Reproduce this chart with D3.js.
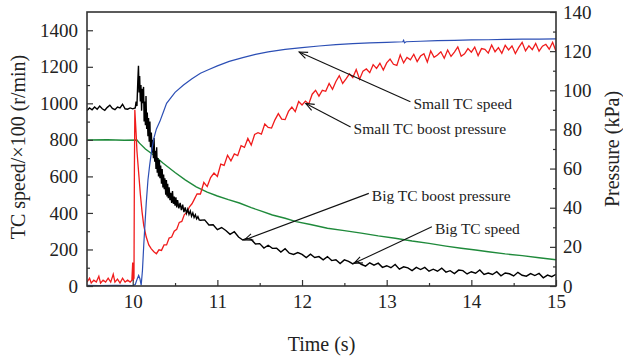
<!DOCTYPE html>
<html>
<head>
<meta charset="utf-8">
<script src="https://cdn.jsdelivr.net/npm/d3@7"></script>
<style>
  body { margin: 0; background: #fff; }
  svg { display: block; }
  svg text { font-family: "Liberation Serif", "Times New Roman", "DejaVu Serif", serif; }
</style>
</head>
<body>
<svg id="chart" width="623" height="356"></svg>
<script>
// [time (s), value]
// small TC speed, x100 r/min (left axis)
const smallSpeed = [
  [9.46, 3], [9.6, 2], [9.8, 3], [10.0, 2], [10.03, 8], [10.05, 35], [10.07, 58], [10.085, 40],
  [10.1, 5], [10.115, 85], [10.13, 220], [10.145, 340], [10.16, 455], [10.18, 580], [10.2, 660],
  [10.22, 730], [10.25, 810], [10.28, 860], [10.32, 900], [10.36, 950], [10.4, 1000], [10.45, 1030],
  [10.5, 1060], [10.6, 1100], [10.7, 1135], [10.8, 1165], [10.9, 1185], [11.0, 1205], [11.14, 1230],
  [11.3, 1250], [11.45, 1268], [11.6, 1282], [11.8, 1295], [12.0, 1305], [12.2, 1314], [12.4, 1321],
  [12.6, 1327], [12.8, 1331], [13.0, 1334], [13.19, 1337], [13.2, 1345], [13.21, 1331], [13.23, 1337],
  [13.4, 1340], [13.6, 1343], [13.8, 1345], [14.0, 1347], [14.2, 1348], [14.4, 1350], [14.6, 1351],
  [14.8, 1352], [15.0, 1353]
];

// big TC speed, x100 r/min (left axis)
const bigSpeed = [
  [9.46, 960], [9.49, 975], [9.52, 965], [9.55, 980], [9.58, 968], [9.61, 985], [9.64, 970], [9.67, 962],
  [9.7, 978], [9.73, 990], [9.76, 972], [9.79, 965], [9.82, 980], [9.85, 975], [9.88, 995], [9.91, 970],
  [9.94, 968], [9.97, 975], [10.0, 970], [10.03, 975],
  [10.04, 1010], [10.05, 985], [10.06, 1120], [10.068, 1205], [10.075, 1060], [10.082, 1150],
  [10.09, 1010], [10.097, 1100], [10.105, 960], [10.11, 1080], [10.12, 1000], [10.128, 1090],
  [10.135, 900], [10.142, 1010], [10.15, 880], [10.157, 1040], [10.165, 860], [10.172, 950],
  [10.18, 820], [10.187, 920], [10.195, 790], [10.203, 900], [10.21, 760], [10.22, 840],
  [10.228, 730], [10.235, 800], [10.245, 700], [10.252, 810], [10.26, 680], [10.268, 740],
  [10.275, 640], [10.283, 760], [10.29, 620], [10.298, 700], [10.305, 600], [10.315, 690],
  [10.322, 590], [10.33, 660], [10.34, 560], [10.348, 640], [10.357, 540], [10.365, 610],
  [10.373, 530], [10.38, 590], [10.39, 500], [10.398, 580], [10.405, 490], [10.413, 560],
  [10.42, 480], [10.43, 540], [10.44, 470], [10.45, 510], [10.46, 455], [10.47, 520],
  [10.48, 450], [10.49, 490], [10.5, 440], [10.51, 485], [10.52, 430], [10.53, 470],
  [10.545, 425], [10.56, 455], [10.575, 415], [10.59, 445], [10.605, 405], [10.62, 430],
  [10.635, 398], [10.65, 420], [10.665, 392], [10.68, 410], [10.695, 382], [10.71, 400],
  [10.725, 375], [10.74, 390], [10.755, 368], [10.77, 380], [10.785, 362],
  [10.8, 360], [10.85, 362], [10.9, 334], [10.95, 335], [11.0, 308], [11.05, 320], [11.1, 304],
  [11.15, 283], [11.2, 297], [11.25, 268], [11.3, 252], [11.35, 260], [11.4, 255], [11.45, 230],
  [11.5, 232], [11.55, 208], [11.6, 223], [11.65, 206], [11.7, 207], [11.75, 186], [11.8, 204],
  [11.85, 180], [11.9, 173], [11.95, 183], [12.0, 173], [12.05, 156], [12.1, 174], [12.15, 156],
  [12.2, 161], [12.25, 143], [12.3, 161], [12.35, 139], [12.4, 144], [12.45, 123], [12.5, 143],
  [12.55, 135], [12.6, 121], [12.65, 135], [12.7, 119], [12.75, 109], [12.8, 127], [12.85, 114],
  [12.9, 125], [12.95, 102], [13.0, 111], [13.05, 100], [13.1, 118], [13.15, 92], [13.2, 105],
  [13.25, 99], [13.3, 84], [13.35, 102], [13.4, 90], [13.45, 102], [13.5, 81], [13.55, 92],
  [13.6, 81], [13.65, 98], [13.7, 76], [13.75, 84], [13.8, 68], [13.85, 87], [13.9, 84],
  [13.95, 66], [14.0, 78], [14.05, 70], [14.1, 88], [14.15, 63], [14.2, 71], [14.25, 63],
  [14.3, 78], [14.35, 56], [14.4, 71], [14.45, 67], [14.5, 55], [14.55, 75], [14.6, 59],
  [14.65, 54], [14.7, 68], [14.75, 57], [14.8, 69], [14.85, 45], [14.9, 60], [14.95, 51], [15.0, 64]
];

// small TC boost pressure, kPa (right axis)
const smallBoost = [
  [9.46, 2], [9.49, 4], [9.51, 1.5], [9.54, 3], [9.57, 2], [9.6, 5], [9.62, 1.5], [9.65, 3],
  [9.68, 2], [9.71, 4], [9.74, 2], [9.77, 6], [9.79, 2], [9.82, 3.5], [9.85, 1.5], [9.88, 4],
  [9.91, 2], [9.94, 3], [9.97, 2], [9.99, 3], [10.0, 12], [10.005, 3], [10.015, 4], [10.02, 60],
  [10.025, 90], [10.03, 86], [10.04, 78], [10.05, 69], [10.07, 58], [10.09, 47], [10.11, 38],
  [10.13, 31], [10.16, 25], [10.19, 21], [10.22, 19], [10.25, 17.5], [10.28, 16.5], [10.31, 18.5],
  [10.34, 18.2], [10.37, 21], [10.4, 21], [10.43, 24.5], [10.46, 25], [10.49, 28], [10.52, 29],
  [10.55, 32.5], [10.58, 33], [10.61, 36.5], [10.64, 37.5], [10.67, 40.5], [10.7, 42], [10.73, 44.5],
  [10.76, 47.1], [10.8, 47], [10.84, 52.9], [10.88, 50.8], [10.92, 55.4], [10.96, 57.7], [11.0, 56],
  [11.04, 62.3], [11.08, 61.6], [11.12, 66.8], [11.16, 63.9], [11.2, 67.5], [11.24, 66.6], [11.28, 71.7],
  [11.32, 70.8], [11.36, 75.4], [11.4, 72], [11.44, 77.4], [11.48, 78.3], [11.52, 77.6], [11.56, 82.8],
  [11.6, 81], [11.64, 80.7], [11.68, 84.9], [11.72, 88.1], [11.76, 85.3], [11.8, 85], [11.84, 89.2],
  [11.88, 91.4], [11.92, 89.1], [11.96, 94.3], [12.0, 92.5], [12.04, 94.5], [12.08, 93], [12.12, 98],
  [12.16, 100], [12.2, 97], [12.24, 100], [12.28, 99.5], [12.32, 103.5], [12.36, 100.5], [12.4, 104.5],
  [12.44, 107.5], [12.48, 103.5], [12.52, 105.8], [12.56, 108.4], [12.6, 106.5], [12.64, 110.6],
  [12.68, 105.7], [12.72, 109.8], [12.76, 110.9], [12.8, 109], [12.84, 113.1], [12.88, 111.2],
  [12.92, 113.8], [12.96, 110.4], [13.0, 114], [13.04, 115.9], [13.08, 113.3], [13.12, 112.7],
  [13.16, 118.1], [13.2, 114], [13.24, 116.8], [13.28, 115.6], [13.32, 118.4], [13.36, 114.7],
  [13.4, 117.5], [13.44, 118.7], [13.48, 114.4], [13.52, 120.1], [13.56, 116.8], [13.6, 118],
  [13.64, 119.7], [13.68, 116.4], [13.72, 120.6], [13.76, 117.3], [13.8, 119.5], [13.84, 122.2],
  [13.88, 117.4], [13.92, 118.6], [13.96, 121.3], [14.0, 119.5], [14.04, 122.1], [14.08, 117.7],
  [14.12, 121.3], [14.16, 120.9], [14.2, 119], [14.24, 123.1], [14.28, 119.7], [14.32, 121.8],
  [14.36, 118.9], [14.4, 123], [14.44, 120.6], [14.48, 122.7], [14.52, 118.8], [14.56, 121.9],
  [14.6, 124.5], [14.64, 120.1], [14.68, 122.7], [14.72, 120.8], [14.76, 123.9], [14.8, 120],
  [14.84, 122.5], [14.88, 123.5], [14.92, 121], [14.96, 124.5], [15.0, 120]
];

// big TC boost pressure, kPa (right axis)
const bigBoost = [
  [9.46, 74.6], [9.7, 74.7], [9.9, 74.5], [10.05, 74.6], [10.08, 73], [10.15, 70], [10.25, 66.8],
  [10.36, 62.7], [10.5, 58], [10.62, 54.2], [10.75, 50.7], [10.88, 48], [11.0, 46], [11.13, 44.1],
  [11.26, 42.4], [11.4, 40], [11.52, 38.3], [11.65, 36.3], [11.8, 34.6], [11.93, 32.9], [12.1, 31.4],
  [12.3, 29.5], [12.5, 28.3], [12.7, 27], [12.9, 25.6], [13.1, 24.4], [13.3, 23], [13.5, 21.8],
  [13.7, 20.4], [13.88, 19.3], [14.05, 18.4], [14.2, 17.5], [14.4, 16.4], [14.6, 15.5],
  [14.8, 14.4], [15.0, 13.4]
];

const xTicks = [10, 11, 12, 13, 14, 15];
const xMinor = [10.5, 11.5, 12.5, 13.5, 14.5];
const leftTicks = [0, 200, 400, 600, 800, 1000, 1200, 1400];
const leftMinor = [100, 300, 500, 700, 900, 1100, 1300];
const rightTicks = [0, 20, 40, 60, 80, 100, 120, 140];
const rightMinor = [10, 30, 50, 70, 90, 110, 130];

// annotations: label, arrow tip and tail in [time, left-axis value]
const notes = [
  { label: "Small TC speed", tip: [11.966, 1281], tail: [13.28, 1008] },
  { label: "Small TC boost pressure", tip: [12.044, 999], tail: [12.574, 871] },
  { label: "Big TC boost pressure", tip: [11.319, 252], tail: [12.789, 507] },
  { label: "Big TC speed", tip: [12.613, 124], tail: [13.534, 324] }
];

const svg = d3.select("#chart");
const pL = 87, pR = 556, pT = 12, pB = 286;

const x = d3.scaleLinear().domain([9.46, 15]).range([pL, pR]);
const yL = d3.scaleLinear().domain([0, 1500]).range([pB, pT]);
const yR = d3.scaleLinear().domain([0, 140]).range([pB, pT]);

svg.append("clipPath").attr("id", "clip")
  .append("rect").attr("x", pL).attr("y", pT).attr("width", pR - pL).attr("height", pB - pT);

const plot = svg.append("g").attr("clip-path", "url(#clip)");

const lineL = d3.line().x(d => x(d[0])).y(d => yL(d[1]));
const lineR = d3.line().x(d => x(d[0])).y(d => yR(d[1]));

plot.append("path").attr("d", lineR(bigBoost)).attr("fill", "none").attr("stroke", "#1f8a3b").attr("stroke-width", 1.4);
plot.append("path").attr("d", lineR(smallBoost)).attr("fill", "none").attr("stroke", "#f01c1c").attr("stroke-width", 1.3);
plot.append("path").attr("d", lineL(bigSpeed)).attr("fill", "none").attr("stroke", "#000").attr("stroke-width", 1.4);
plot.append("path").attr("d", lineL(smallSpeed)).attr("fill", "none").attr("stroke", "#2c4fb5").attr("stroke-width", 1.2);

// axes
const fontSize = 19;
function styleAxis(g) {
  g.select(".domain").remove();
  g.selectAll("line").attr("stroke", "#333").attr("stroke-width", 1.2);
  g.selectAll("text").attr("font-size", fontSize).attr("fill", "#222");
}

svg.append("g").attr("transform", `translate(0,${pB})`)
  .call(d3.axisBottom(x).tickValues(xTicks).tickSize(-6).tickPadding(9).tickFormat(d3.format("d")))
  .call(styleAxis);
svg.append("g").attr("transform", `translate(0,${pB})`)
  .call(d3.axisBottom(x).tickValues(xMinor).tickSize(-3).tickFormat(""))
  .call(styleAxis);

svg.append("g").attr("transform", `translate(${pL},0)`)
  .call(d3.axisLeft(yL).tickValues(leftTicks).tickSize(-6).tickPadding(9).tickFormat(d3.format("d")))
  .call(styleAxis);
svg.append("g").attr("transform", `translate(${pL},0)`)
  .call(d3.axisLeft(yL).tickValues(leftMinor).tickSize(-3).tickFormat(""))
  .call(styleAxis);

svg.append("g").attr("transform", `translate(${pR},0)`)
  .call(d3.axisRight(yR).tickValues(rightTicks).tickSize(-6).tickPadding(7).tickFormat(d3.format("d")))
  .call(styleAxis);
svg.append("g").attr("transform", `translate(${pR},0)`)
  .call(d3.axisRight(yR).tickValues(rightMinor).tickSize(-3).tickFormat(""))
  .call(styleAxis);

svg.append("rect").attr("x", pL).attr("y", pT).attr("width", pR - pL).attr("height", pB - pT)
  .attr("fill", "none").attr("stroke", "#333").attr("stroke-width", 1.6);

// axis titles
svg.append("text").attr("x", (pL + pR) / 2).attr("y", 351).attr("text-anchor", "middle")
  .attr("font-size", 20).attr("fill", "#222").text("Time (s)");
svg.append("text").attr("transform", `translate(25,${(pT + pB) / 2 - 2}) rotate(-90)`)
  .attr("text-anchor", "middle").attr("font-size", 20).attr("fill", "#222").text("TC speed/\u00d7100 (r/min)");
svg.append("text").attr("transform", `translate(619,${(pT + pB) / 2}) rotate(-90)`)
  .attr("text-anchor", "middle").attr("font-size", 20).attr("fill", "#222").text("Pressure (kPa)");

// annotations with open arrowheads
const ann = svg.append("g");
notes.forEach(n => {
  const tx = x(n.tip[0]), ty = yL(n.tip[1]);
  const sx = x(n.tail[0]), sy = yL(n.tail[1]);
  const a = Math.atan2(sy - ty, sx - tx);
  const len = 9, spread = 0.38;
  ann.append("line").attr("x1", sx).attr("y1", sy).attr("x2", tx).attr("y2", ty)
    .attr("stroke", "#111").attr("stroke-width", 1.1);
  ann.append("path")
    .attr("d", `M${tx + len * Math.cos(a - spread)},${ty + len * Math.sin(a - spread)}L${tx},${ty}L${tx + len * Math.cos(a + spread)},${ty + len * Math.sin(a + spread)}`)
    .attr("fill", "none").attr("stroke", "#111").attr("stroke-width", 1.1);
  ann.append("text").attr("x", sx + 3).attr("y", sy + 2).attr("dy", "0.35em")
    .attr("font-size", 15.5).attr("fill", "#222").text(n.label);
});
</script>
</body>
</html>
